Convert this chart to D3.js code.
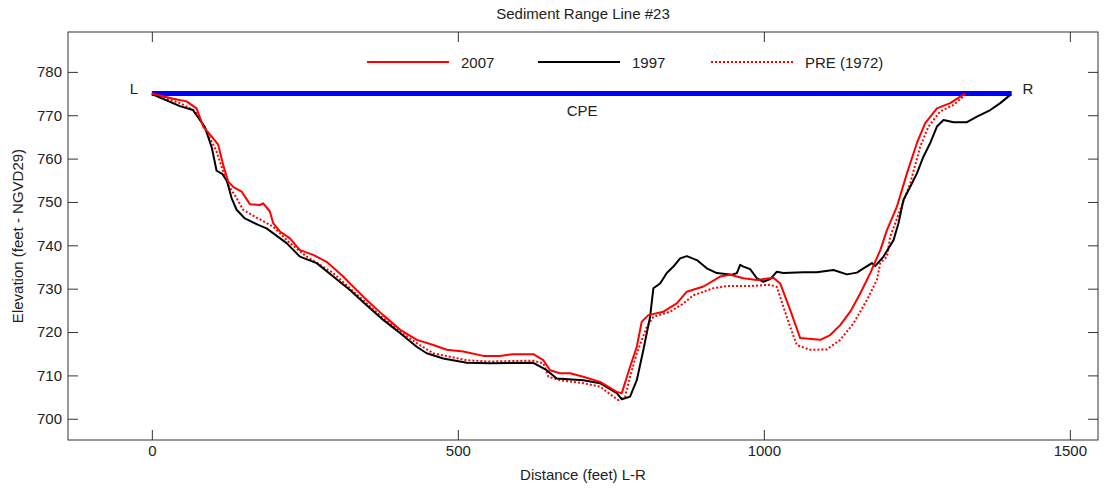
<!DOCTYPE html>
<html>
<head>
<meta charset="utf-8">
<script src="https://cdn.jsdelivr.net/npm/d3@7"></script>
<style>
  html, body { margin: 0; padding: 0; background: #fff; }
  svg { display: block; font-family: "Liberation Sans", Arial, sans-serif; }
  .axis path { display: none; }
  .axis line { stroke: #333; stroke-width: 1; }
  .axis text { font-size: 15px; fill: #222; font-family: "Liberation Sans", Arial, sans-serif; }
</style>
</head>
<body>
<svg id="chart" width="1106" height="488"></svg>
<script>
// Cross-section survey profiles: [distance (ft), elevation (ft NGVD29)]
const survey2007 = [
  [0, 775], [34.8, 773.8], [56.7, 773.2], [73.1, 771.6], [83.9, 767.4], [97.6, 765.1],
  [108.4, 763.2], [116.6, 758.5], [124.7, 754.7], [132.9, 753.5], [146.6, 752.4],
  [160.2, 749.5], [176.6, 749.3], [182, 749.7], [192.9, 747.8], [198.3, 745.1],
  [209.3, 743.2], [225.6, 741.6], [242, 738.9], [263.7, 737.8], [285.6, 736.2],
  [312.7, 732.8], [323.7, 731.2], [351, 727.4], [378.1, 723.9], [405.9, 720.5],
  [433.2, 718.2], [459.9, 717], [481.8, 715.9], [508.9, 715.5], [541.6, 714.5],
  [568.9, 714.5], [590.6, 714.9], [623.3, 714.9], [639.7, 713.5], [650.6, 711.2],
  [667, 710.5], [683.3, 710.5], [705.1, 709.7], [732.4, 708.5], [759.7, 706.2],
  [767.9, 705.9], [781.4, 712], [792.4, 716.6], [800.5, 722.4], [811.3, 723.9],
  [835.9, 724.7], [857.8, 726.6], [874.1, 729.3], [901.3, 730.5], [928.6, 732.8],
  [945, 733.2], [966.7, 732.4], [988.6, 732], [1015.7, 732.5], [1026.7, 731.2],
  [1043, 725.1], [1059.4, 718.6], [1092.1, 718.2], [1108.5, 719.3], [1124.8, 721.6],
  [1141.2, 724.7], [1157.5, 728.9], [1173.9, 733.6], [1190.3, 738.9], [1201.2, 743.5],
  [1217.4, 748.9], [1233.8, 756.6], [1250.1, 763.6], [1263.7, 768.2], [1282.8, 771.6],
  [1304.6, 772.8], [1320.9, 774.3], [1329.1, 775]
];

const survey1997 = [
  [0, 774.9], [45.8, 772.1], [67, 771.2], [86.6, 767.3], [98, 762.5], [105.8, 757.2],
  [115.6, 756.4], [123, 754.7], [130.3, 750.9], [138.5, 748.2], [152, 746.2],
  [173.8, 744.7], [187.5, 743.9], [220.2, 740.5], [242, 737.4], [269.3, 735.9],
  [296.4, 732.8], [323.7, 729.7], [351, 726.2], [378.1, 722.8], [405.9, 719.7],
  [432.7, 716.6], [449.1, 715.1], [476.2, 713.9], [514.5, 712.9], [552.6, 712.8],
  [623.3, 712.9], [645.2, 711.2], [661.6, 709.3], [705.1, 708.9], [732.4, 708.2],
  [759.7, 705.9], [767.9, 704.5], [781.4, 705.1], [792.4, 708.9], [803.2, 715.9],
  [814.1, 723.5], [819.5, 730.1], [830.5, 731.2], [841.4, 733.6], [852.2, 735.1],
  [863.2, 737], [874.1, 737.5], [890.5, 736.6], [906.8, 734.7], [923.2, 733.6],
  [947.7, 733.2], [955.9, 733.6], [961.3, 735.5], [966.7, 735.1], [977.6, 734.5],
  [988.6, 732.4], [999.3, 731.6], [1010.3, 732.2], [1021.2, 733.9], [1032, 733.6],
  [1064.7, 733.8], [1086.6, 733.8], [1113.8, 734.3], [1135.7, 733.3], [1152.1, 733.7],
  [1162.8, 734.7], [1176.6, 735.9], [1182, 735.2], [1195.5, 737.4], [1211.9, 741.2],
  [1220, 745.1], [1228.2, 750.5], [1239.2, 753.5], [1250.1, 756.6], [1260.9, 760.5],
  [1271.9, 763.6], [1282.8, 767.4], [1293.6, 768.9], [1310, 768.4], [1331.9, 768.4],
  [1348.2, 769.7], [1370, 771.2], [1386.3, 772.8], [1402.7, 774.7]
];

const surveyPre1972 = [
  [0, 775], [45.8, 772.8], [70.3, 771], [81.2, 768.5], [92, 765.5], [105.8, 761.6],
  [116.6, 757], [124.7, 753.9], [138.5, 750.9], [149.3, 748.2], [173.8, 746.2],
  [198.3, 744.3], [225.6, 740.5], [252.9, 737.4], [296.4, 733.6], [351, 726.6],
  [378.1, 723.2], [405.9, 720.1], [433.2, 717.4], [459.9, 715.1], [487.2, 714.3],
  [514.5, 713.5], [547.2, 713.2], [623.3, 713.4], [639.7, 712.8], [647.9, 709.7],
  [667, 708.9], [705.1, 708.2], [732.4, 707.4], [754.1, 705.1], [762.3, 704.3],
  [773.3, 705.1], [781.4, 709.7], [792.4, 715.1], [808.7, 721.2], [819.5, 723.5],
  [846.8, 724.7], [868.6, 726.6], [884.9, 728.5], [917.6, 730.1], [939.5, 730.6],
  [977.6, 730.6], [1010.3, 730.9], [1021.2, 730.4], [1032, 725.8], [1043, 721.2],
  [1053.9, 717], [1075.7, 715.9], [1103, 716], [1124.8, 718.2], [1146.5, 722],
  [1168.4, 727.4], [1184.7, 732], [1190.3, 735.9], [1201.1, 737.4], [1206.5, 742],
  [1222.8, 748.2], [1239.2, 754.3], [1255.5, 762.8], [1269.1, 767.4], [1288.2, 770.9],
  [1310, 772.4], [1329.1, 774.7]
];

// Contour pool elevation line, from L bank to R bank
const cpeElevation = 775;
const cpeStations = [0, 1405];

const xTicks = [0, 500, 1000, 1500];
const yTicks = [700, 710, 720, 730, 740, 750, 760, 770, 780];

const legendItems = [
  { label: "2007", color: "#ff0000", dash: null, data: survey2007 },
  { label: "1997", color: "#000000", dash: null, data: survey1997 },
  { label: "PRE (1972)", color: "#ff0000", dash: "2,2", data: surveyPre1972 }
];

const svg = d3.select("#chart");
const margin = { left: 68, right: 8, top: 32, bottom: 48 };
const W = 1106, H = 488;
const fontSize = 15;

const x = d3.scaleLinear().domain([-137, 1546]).range([margin.left, W - margin.right]);
const y = d3.scaleLinear().domain([695.1, 789.2]).range([H - margin.bottom, margin.top]);

const tick = 10;
const fmt = d3.format("d");

// Axes: ticks point inward on all four sides
svg.append("g").attr("class", "axis")
  .attr("transform", `translate(0,${y.range()[0]})`)
  .call(d3.axisBottom(x).tickValues(xTicks).tickFormat(fmt).tickSizeInner(-tick).tickSizeOuter(0).tickPadding(5));
svg.append("g").attr("class", "axis")
  .attr("transform", `translate(0,${y.range()[1]})`)
  .call(d3.axisTop(x).tickValues(xTicks).tickSizeInner(-tick).tickSizeOuter(0).tickFormat(""));
svg.append("g").attr("class", "axis")
  .attr("transform", `translate(${x.range()[0]},0)`)
  .call(d3.axisLeft(y).tickValues(yTicks).tickFormat(fmt).tickSizeInner(-tick).tickSizeOuter(0).tickPadding(6));
svg.append("g").attr("class", "axis")
  .attr("transform", `translate(${x.range()[1]},0)`)
  .call(d3.axisRight(y).tickValues(yTicks).tickSizeInner(-tick).tickSizeOuter(0).tickFormat(""));

// Plot box
svg.append("rect")
  .attr("x", x.range()[0]).attr("y", y.range()[1])
  .attr("width", x.range()[1] - x.range()[0])
  .attr("height", y.range()[0] - y.range()[1])
  .attr("fill", "none").attr("stroke", "#333").attr("stroke-width", 1);

// CPE line
svg.append("line")
  .attr("x1", x(cpeStations[0])).attr("x2", x(cpeStations[1]))
  .attr("y1", y(cpeElevation)).attr("y2", y(cpeElevation))
  .attr("stroke", "#0000ff").attr("stroke-width", 5);

const profile = d3.line().x(d => x(d[0])).y(d => y(d[1]));

// Draw 1972 first, then 1997, then 2007 on top
[legendItems[2], legendItems[1], legendItems[0]].forEach(s => {
  svg.append("path")
    .datum(s.data)
    .attr("d", profile)
    .attr("fill", "none")
    .attr("stroke", s.color)
    .attr("stroke-width", 2)
    .attr("stroke-linejoin", "round")
    .attr("stroke-dasharray", s.dash);
});

// Bank and pool labels
const lab = (t, px, py, anchor) => svg.append("text")
  .attr("x", px).attr("y", py).attr("text-anchor", anchor || "middle")
  .attr("font-size", fontSize).attr("fill", "#222").text(t);
lab("L", 134, 94);
lab("R", 1028, 94);
lab("CPE", x(703), 116);

// Legend
const legendPos = [367, 538, 711];
legendItems.forEach((s, i) => {
  const lx = legendPos[i], ly = 62;
  svg.append("line")
    .attr("x1", lx).attr("x2", lx + 82).attr("y1", ly).attr("y2", ly)
    .attr("stroke", s.color).attr("stroke-width", 2)
    .attr("stroke-dasharray", s.dash);
  svg.append("text")
    .attr("x", lx + 94).attr("y", ly + 5.5)
    .attr("font-size", fontSize).attr("fill", "#222").text(s.label);
});

// Title and axis titles
svg.append("text").attr("x", 583).attr("y", 19).attr("text-anchor", "middle")
  .attr("font-size", fontSize).attr("fill", "#222").text("Sediment Range Line #23");
svg.append("text").attr("x", 583).attr("y", 480).attr("text-anchor", "middle")
  .attr("font-size", fontSize).attr("fill", "#222").text("Distance (feet) L-R");
svg.append("text")
  .attr("transform", `translate(23,236) rotate(-90)`)
  .attr("text-anchor", "middle")
  .attr("font-size", fontSize).attr("fill", "#222").text("Elevation (feet - NGVD29)");
</script>
</body>
</html>
